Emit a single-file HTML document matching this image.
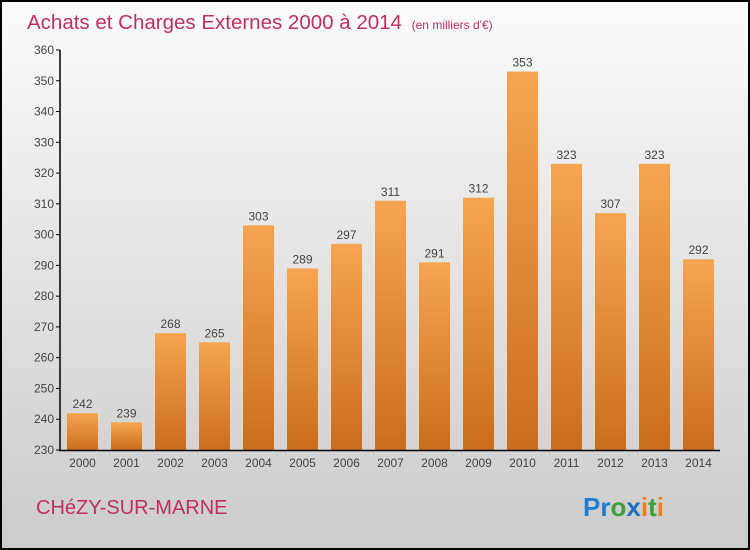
<!DOCTYPE html>
<html><head><meta charset="utf-8"><style>
body{margin:0;width:750px;height:550px;overflow:hidden;}
svg{display:block;font-family:"Liberation Sans",sans-serif;}
</style></head><body>
<svg id="chart" width="750" height="550" xmlns="http://www.w3.org/2000/svg">
<defs>
<linearGradient id="bg" x1="0" y1="0" x2="0" y2="1"><stop offset="0" stop-color="#fbfbfb"/><stop offset="1" stop-color="#cbcbcb"/></linearGradient>
<linearGradient id="bar" x1="0" y1="0" x2="0" y2="1"><stop offset="0" stop-color="#f7a552"/><stop offset="1" stop-color="#c96e1c"/></linearGradient>
</defs>
<rect x="1" y="1" width="748" height="548" fill="url(#bg)" stroke="#000" stroke-width="2"/>
<text x="27" y="29" font-size="20.5" fill="#c0305e">Achats et Charges Externes 2000 à 2014 <tspan font-size="12" dx="4">(en milliers d'€)</tspan></text>
<text x="36" y="514" font-size="20" fill="#c0305e">CHéZY-SUR-MARNE</text>
<g font-size="26" font-weight="bold">
<text x="583" y="516"><tspan fill="#1e7fd0">Pr</tspan><tspan fill="#3aa03a">o</tspan><tspan fill="#1e6fc0">x</tspan><tspan fill="#f07d1a">i</tspan><tspan fill="#3aa03a">t</tspan><tspan fill="#f07d1a">i</tspan></text>
</g>
<g id="plot"></g>
</svg>
<script>
const years=["2000","2001","2002","2003","2004","2005","2006","2007","2008","2009","2010","2011","2012","2013","2014"];
const values=[242,239,268,265,303,289,297,311,291,312,353,323,307,323,292];
const ticks=[230,240,250,260,270,280,290,300,310,320,330,340,350,360];
const NS="http://www.w3.org/2000/svg";
const g=document.getElementById('plot');
const y=v=>450-(v-230)*400/130;
const xc=i=>82.5+i*44;
function mk(t,a){const e=document.createElementNS(NS,t);for(const k in a)e.setAttribute(k,a[k]);g.appendChild(e);return e;}
ticks.forEach(t=>{
  const l=mk('line',{x1:56,x2:60,y1:y(t),y2:y(t),stroke:'#000'});
  
  
  const tx=mk('text',{x:54,y:y(t)+4,'font-size':12,'text-anchor':'end',fill:'#444'});
  tx.textContent=t;
  
  
});
values.forEach((v,i)=>{
  const r=mk('rect',{x:xc(i)-15.5,y:y(v),width:31,height:450-y(v),fill:'url(#bar)'});
  
  
  const t=mk('text',{x:xc(i),y:y(v)-5,'font-size':12,'text-anchor':'middle',fill:'#444'});
  t.textContent=v;
  
  
  const xl=mk('text',{x:xc(i),y:467,'font-size':12,'text-anchor':'middle',fill:'#444'});
  xl.textContent=years[i];
  
  
});
const ya=mk('line',{x1:60,x2:60,y1:50,y2:451,stroke:'#000','stroke-width':1.5});


const xa=mk('line',{x1:59,x2:720,y1:450.5,y2:450.5,stroke:'#000','stroke-width':1.5});


</script>
</body></html>
